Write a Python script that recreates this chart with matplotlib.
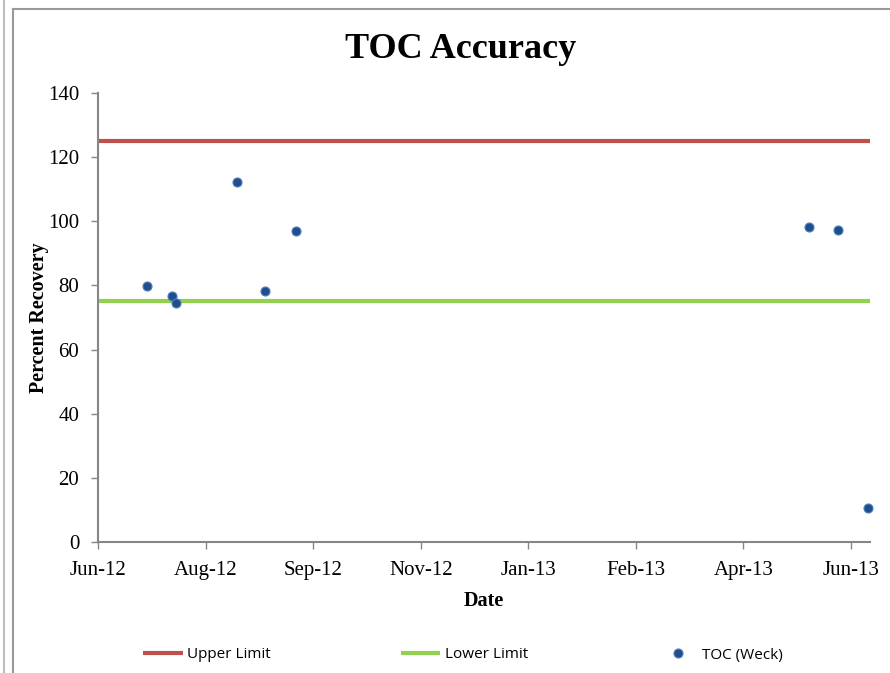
import matplotlib
matplotlib.use("Agg")
import matplotlib.pyplot as plt
import matplotlib.dates as mdates
from matplotlib.lines import Line2D
from datetime import datetime, timedelta

# data
dates = [datetime(2012, 7, 8), datetime(2012, 7, 20), datetime(2012, 7, 22),
         datetime(2012, 8, 20), datetime(2012, 9, 2), datetime(2012, 9, 17),
         datetime(2013, 5, 18), datetime(2013, 6, 1), datetime(2013, 6, 15)]
toc = [79.8, 76.7, 74.5, 112.3, 78.3, 97.0, 98.2, 97.3, 10.6]
upper_limit = 125
lower_limit = 75

x_start = datetime(2012, 6, 15)
x_end = datetime(2013, 6, 16)
tick_step = 51  # days between major ticks

serif = "Liberation Serif"
sans = "Open Sans"

fig = plt.figure(figsize=(8.9, 6.73), dpi=100)
W, H = 890, 673
ax = fig.add_axes([98 / W, 1 - 542 / H, (870 - 98) / W, (542 - 93) / H])

ax.plot([x_start, x_end], [upper_limit, upper_limit], color="#C0504D", lw=3,
        label="Upper Limit", solid_capstyle="butt")
ax.plot([x_start, x_end], [lower_limit, lower_limit], color="#92D050", lw=3,
        label="Lower Limit", solid_capstyle="butt")
ax.plot(dates, toc, ls="none", marker="o", ms=6.5, mfc="#1F4E8C",
        mec="#4F81BD", mew=0.8, label="TOC (Weck)", clip_on=False)

ax.set_xlim(x_start, x_end)
ax.set_ylim(0, 140)
ax.set_yticks(range(0, 141, 20))
ticks = [x_start + timedelta(days=tick_step * i) for i in range(8)]
ax.set_xticks(ticks)
ax.xaxis.set_major_formatter(mdates.DateFormatter("%b-%y"))

for s in ["top", "right"]:
    ax.spines[s].set_visible(False)
for s in ["left", "bottom"]:
    ax.spines[s].set_color("#868686")
    ax.spines[s].set_linewidth(1.5)
ax.tick_params(direction="out", length=5, width=1, color="#868686", labelsize=15)
ax.tick_params(axis="x", pad=8.5)
ax.tick_params(axis="y", pad=8.5)
for lab in ax.get_xticklabels() + ax.get_yticklabels():
    lab.set_fontfamily(serif)

ax.set_xlabel("Date", fontfamily=serif, fontweight="bold", fontsize=14.5, labelpad=8)
ax.set_ylabel("Percent Recovery", fontfamily=serif, fontweight="bold",
              fontsize=14.5, labelpad=-1)

fig.text(461 / W, 1 - 50 / H, "TOC Accuracy", fontfamily=serif, fontweight="bold",
         fontsize=26, ha="center", va="center")

handles, labels = ax.get_legend_handles_labels()
leg = fig.legend(handles, labels, loc="center", bbox_to_anchor=(463 / W, 1 - 655 / H),
                 ncol=3, frameon=False, handlelength=2.6, handletextpad=0.3,
                 columnspacing=8.5, prop={"family": sans, "size": 11})

# outer chart frame (cropped screenshot of a worksheet chart)
fig.add_artist(Line2D([13 / W, 13 / W], [0, 1 - 9 / H], color="#9a9a9a", lw=1.5,
                      transform=fig.transFigure))
fig.add_artist(Line2D([13 / W, 1], [1 - 9 / H, 1 - 9 / H], color="#9a9a9a", lw=1.5,
                      transform=fig.transFigure))
fig.add_artist(Line2D([3.5 / W, 3.5 / W], [0, 1], color="#b0b0b0", lw=1.2,
                      transform=fig.transFigure))

fig.savefig("out.png", dpi=100)
